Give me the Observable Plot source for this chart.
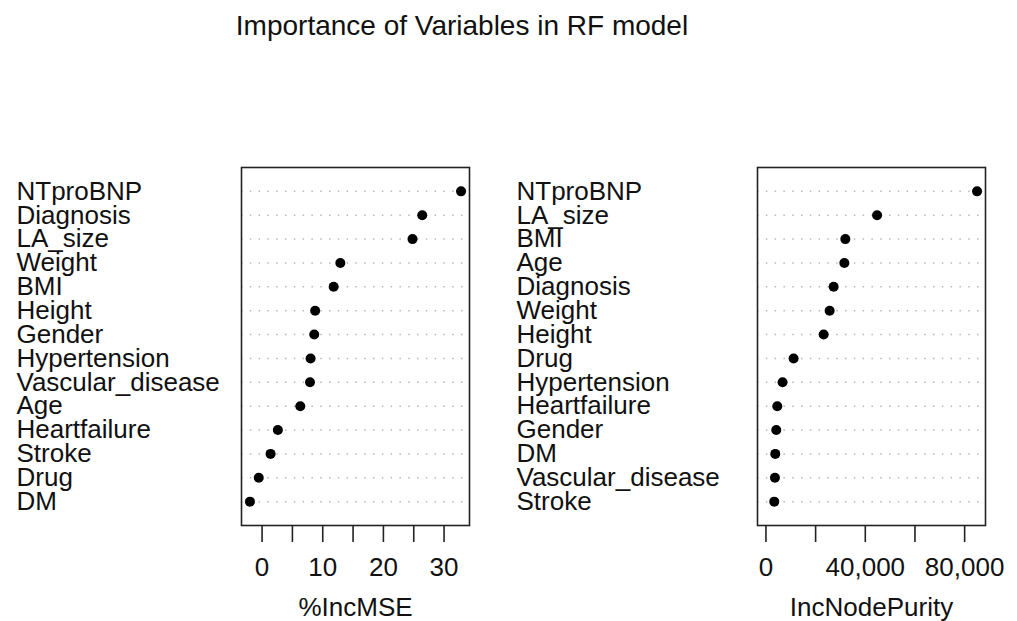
<!DOCTYPE html>
<html><head><meta charset="utf-8">
<script src="https://cdn.jsdelivr.net/npm/d3@7"></script>
<script src="https://cdn.jsdelivr.net/npm/@observablehq/plot@0.6"></script>
<style>
body{margin:0;background:#fff;font-family:"Liberation Sans",Arial,sans-serif;}
#wrap{position:relative;width:1017px;height:621px;overflow:hidden;}
#title{position:absolute;left:0;top:12px;width:924px;text-align:center;font-size:28px;line-height:28px;color:#111;}
.panel{position:absolute;top:0;}
</style></head><body>
<div id="wrap"><div id="title">Importance of Variables in RF model</div></div>
<script>
// %IncMSE panel
const mseVars = ["NTproBNP","Diagnosis","LA_size","Weight","BMI","Height","Gender","Hypertension","Vascular_disease","Age","Heartfailure","Stroke","Drug","DM"];
const mseValues = [32.8,26.4,24.8,12.9,11.8,8.75,8.6,8.0,7.9,6.3,2.6,1.4,-0.55,-2.0];
const mseTicks = [0,5,10,15,20,25,30];
const mseTickLabels = ["0","","10","","20","","30"];
// IncNodePurity panel
const purityVars = ["NTproBNP","LA_size","BMI","Age","Diagnosis","Weight","Height","Drug","Hypertension","Heartfailure","Gender","DM","Vascular_disease","Stroke"];
const purityValues = [85000,44750,31970,31570,27260,25650,23230,11130,6700,4560,4150,3750,3620,3350];
const purityTicks = [0,20000,40000,60000,80000];
const purityTickLabels = ["0","","40,000","","80,000"];

function ext(lo, hi) { const d = (hi - lo) * 0.04; return [lo - d, hi + d]; }

function panel({vars, values, ticks, tickLabels, xlabel, xmin, left, width, marginLeft, marginRight}) {
  const data = vars.map((v, i) => ({name: v, value: values[i]}));
  const lo = xmin === undefined ? d3.min(values) : xmin;
  const svg = Plot.plot({
    width, height: 621,
    marginLeft, marginRight, marginTop: 167, marginBottom: 96,
    style: {fontFamily: "'Liberation Sans', Arial, sans-serif", fontSize: "26px", color: "#111", background: "transparent"},
    x: {domain: ext(lo, d3.max(values))},
    y: {type: "point", domain: vars, padding: 1, round: false},
    marks: [
      Plot.gridY({stroke: "#b8b8b8", strokeOpacity: 1, strokeWidth: 1.5, strokeDasharray: "1.5,7.3"}),
      Plot.frame({stroke: "#222", strokeWidth: 1.6}),
      Plot.dot(data, {x: "value", y: "name", r: 5, fill: "black", stroke: null}),
      Plot.axisY({tickSize: 0, tickPadding: 0, textAnchor: "start", dx: -(marginLeft - 16), fontSize: 26, label: null}),
      Plot.axisX({ticks, tickFormat: d => tickLabels[ticks.indexOf(d)], tickSize: 17, tickPadding: 15.5, strokeWidth: 1.6, stroke: "#222", fontSize: 26, label: null}),
      Plot.text([xlabel], {text: d => d, frameAnchor: "bottom", lineAnchor: "bottom", dy: 90, fontSize: 26})
    ]
  });
  const div = document.createElement("div");
  div.className = "panel";
  div.style.left = left + "px";
  div.appendChild(svg);
  document.getElementById("wrap").appendChild(div);
}

panel({vars: mseVars, values: mseValues, ticks: mseTicks, tickLabels: mseTickLabels, xlabel: "%IncMSE",
       left: 0, width: 500, marginLeft: 241, marginRight: 31});
panel({vars: purityVars, values: purityValues, ticks: purityTicks, tickLabels: purityTickLabels, xlabel: "IncNodePurity",
       xmin: 0, left: 500, width: 517, marginLeft: 257, marginRight: 32});
</script>
</body></html>
